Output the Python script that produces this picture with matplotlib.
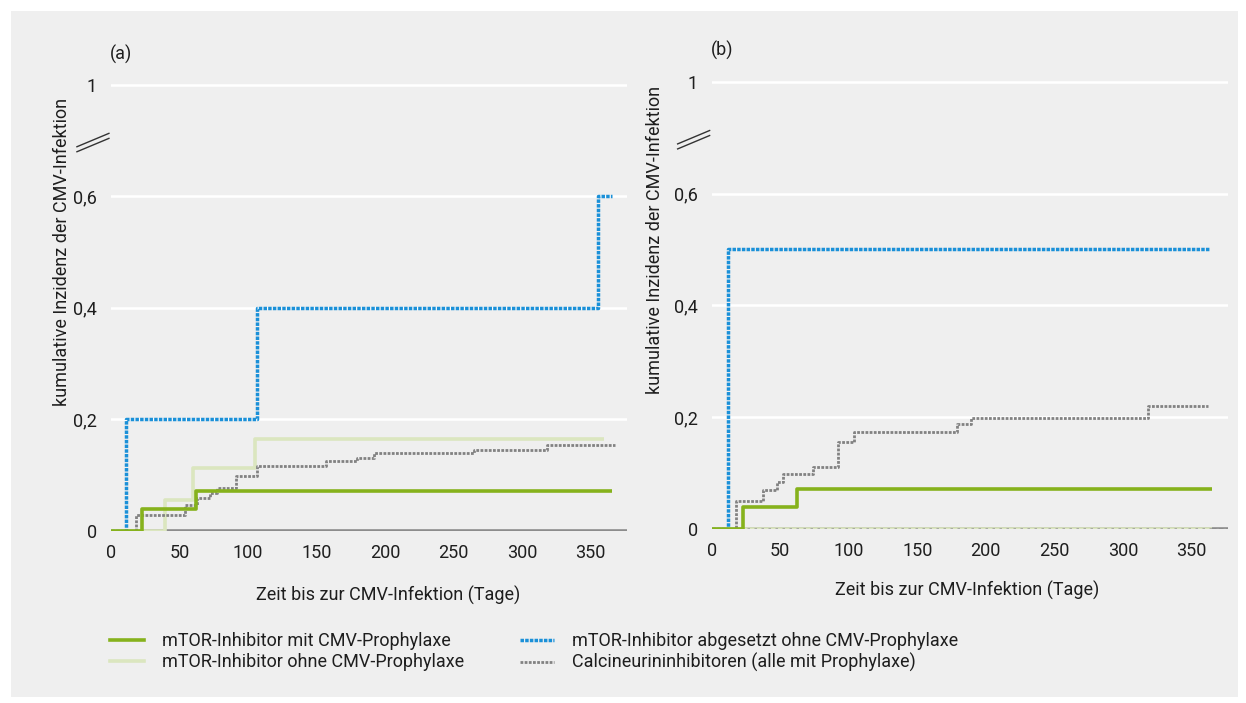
import matplotlib
matplotlib.use("Agg")
import matplotlib.pyplot as plt
from matplotlib.patches import Rectangle
from matplotlib.lines import Line2D
from matplotlib.transforms import blended_transform_factory

plt.rcParams['font.family'] = ['Roboto', 'DejaVu Sans']

W, H = 1246, 703
FS = 13
TXT = '#1e1e1e'

# --- panel (a): step times (days) and cumulative incidence ---
a_mit_t = [0, 22.8, 62.3, 365.5]
a_mit_v = [0, 0.038, 0.071, 0.071]
a_ohne_t = [0, 39.2, 60.1, 105.3, 359.9]
a_ohne_v = [0, 0.055, 0.113, 0.164, 0.164]
a_abg_t = [0, 11.2, 106.4, 355.0, 365.5]
a_abg_v = [0, 0.2, 0.4, 0.6, 0.6]
a_cni_t = [0, 18.0, 54.0, 62.6, 72.3, 77.6, 91.2, 106.6, 156.9, 179.6, 192.0, 264.5, 318.0, 367.9]
a_cni_v = [0, 0.028, 0.045, 0.058, 0.067, 0.077, 0.097, 0.115, 0.124, 0.130, 0.139, 0.145, 0.154, 0.154]

# --- panel (b) ---
b_mit_t = [0, 22.8, 62.4, 365.2]
b_mit_v = [0, 0.038, 0.071, 0.071]
b_ohne_t = [0, 365.2]
b_ohne_v = [0, 0]
b_abg_t = [0, 11.9, 363.6]
b_abg_v = [0, 0.5, 0.5]
b_cni_t = [0, 18.0, 37.2, 47.8, 52.0, 73.6, 92.0, 104.0, 179.0, 189.5, 318.7, 362.0]
b_cni_v = [0, 0.049, 0.069, 0.083, 0.097, 0.111, 0.155, 0.173, 0.188, 0.198, 0.219, 0.219]

yticks = [0, 0.2, 0.4, 0.6, 0.8]
ytick_labels = ['0', '0,2', '0,4', '0,6', '1']
xticks = [0, 50, 100, 150, 200, 250, 300, 350]

labels = ['mTOR-Inhibitor mit CMV-Prophylaxe',
          'mTOR-Inhibitor ohne CMV-Prophylaxe',
          'mTOR-Inhibitor abgesetzt ohne CMV-Prophylaxe',
          'Calcineurininhibitoren (alle mit Prophylaxe)']

c_mit = '#86b21c'
c_ohne = '#dbe6bf'
c_abg = '#1a90d8'
c_cni = '#828282'
styles = [
    dict(color=c_mit, lw=2.6, ls='-', zorder=4),
    dict(color=c_ohne, lw=2.6, ls='-', zorder=2),
    dict(color=c_abg, lw=2.5, ls=(0, (1, 0.35)), zorder=3.5),
    dict(color=c_cni, lw=2.0, ls=(0, (1, 0.5)), zorder=3),
]

fig = plt.figure(figsize=(W / 100, H / 100), dpi=100)
fig.patches.append(Rectangle((11 / W, 1 - 697 / H), (1238 - 11) / W, (697 - 11) / H,
                             transform=fig.transFigure, facecolor='#efefef',
                             edgecolor='none', zorder=-1))

ax_a = fig.add_axes([111 / W, (H - 530.5) / H, 516 / W, 0.84 * 557 / H])
ax_b = fig.add_axes([711.7 / W, (H - 528.5) / H, 516 / W, 0.84 * 558.2 / H])

panels = [
    (ax_a, [(a_mit_t, a_mit_v), (a_ohne_t, a_ohne_v), (a_abg_t, a_abg_v), (a_cni_t, a_cni_v)]),
    (ax_b, [(b_mit_t, b_mit_v), (b_ohne_t, b_ohne_v), (b_abg_t, b_abg_v), (b_cni_t, b_cni_v)]),
]

for ax, series in panels:
    ax.patch.set_visible(False)
    for s in ax.spines.values():
        s.set_visible(False)
    ax.set_xlim(0, 376.5)
    ax.set_ylim(0, 0.84)
    ax.set_xticks(xticks)
    ax.set_yticks(yticks)
    ax.set_yticklabels(ytick_labels)
    ax.tick_params(length=0, labelsize=FS, colors=TXT)
    ax.tick_params(axis='x', pad=10)
    ax.tick_params(axis='y', pad=10)
    for y in yticks[1:]:
        ax.axhline(y, color='white', lw=1.8, zorder=1)
    ax.axhline(0, color='#8c8c8c', lw=2.6, zorder=1.5)
    for (t, v), st in zip(series, styles):
        ax.step(t, v, where='post', solid_capstyle='butt', **st)
    # axis break marks
    tr = blended_transform_factory(ax.transAxes, ax.transData)
    for dy in (0, 0.009):
        ax.plot([-0.066, -0.004], [0.680 + dy, 0.704 + dy], color='#333333',
                lw=1.0, transform=tr, clip_on=False)

# dotted axis showing through the pale line in (b)
ax_b.axhline(0, color='#9a9a9a', lw=1.8, ls=(0, (1, 1.8)), zorder=2.5)

fig.text(110 / W, 1 - 54 / H, '(a)', ha='left', va='center', fontsize=FS, color=TXT)
fig.text(711 / W, 1 - 50 / H, '(b)', ha='left', va='center', fontsize=FS, color=TXT)

ylab = 'kumulative Inzidenz der CMV-Infektion'
fig.text(62 / W, 1 - 252 / H, ylab, rotation=90, ha='center', va='center', fontsize=FS, color=TXT)
fig.text(655 / W, 1 - 240 / H, ylab, rotation=90, ha='center', va='center', fontsize=FS, color=TXT)

xlab = 'Zeit bis zur CMV-Infektion (Tage)'
fig.text(388 / W, 1 - 595 / H, xlab, ha='center', va='center', fontsize=FS, color=TXT)
fig.text(967 / W, 1 - 590 / H, xlab, ha='center', va='center', fontsize=FS, color=TXT)

handles = [Line2D([], [], color=st['color'], lw=st['lw'], ls=st['ls']) for st in styles]
leg_kw = dict(loc='upper left', frameon=False, fontsize=FS, handlelength=1.9,
              handletextpad=1.0, borderpad=0, borderaxespad=0, labelspacing=0.18,
              labelcolor=TXT)
fig.legend(handles[:2], labels[:2], bbox_to_anchor=(110 / W, 1 - 632 / H), **leg_kw)
fig.legend(handles[2:], labels[2:], bbox_to_anchor=(520 / W, 1 - 632 / H), **leg_kw)

fig.savefig('out.png', dpi=100)
